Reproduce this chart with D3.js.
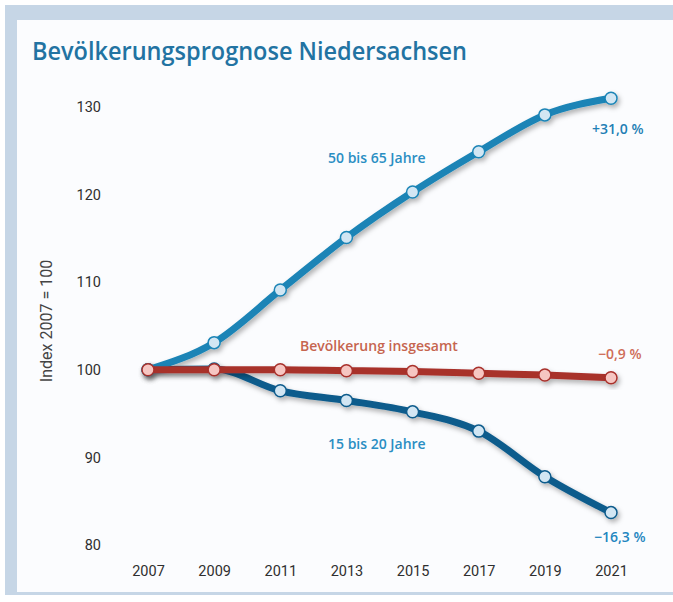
<!DOCTYPE html>
<html>
<head>
<meta charset="utf-8">
<script src="https://cdn.jsdelivr.net/npm/d3@7"></script>
<style>
  body { margin: 0; background: #fff; }
  svg { display: block; font-family: Roboto, "Noto Sans", sans-serif; }
</style>
</head>
<body>
<svg id="chart" width="673" height="602"></svg>
<script>
var years = [2007, 2009, 2011, 2013, 2015, 2017, 2019, 2021];
var yTicks = [80, 90, 100, 110, 120, 130];
var alt50bis65 = [100, 103.1, 109.1, 115.1, 120.3, 124.9, 129.1, 131.0];
var gesamt = [100, 100, 100, 99.9, 99.8, 99.6, 99.4, 99.1];
var alt15bis20 = [100, 100.1, 97.6, 96.5, 95.2, 93.0, 87.8, 83.7];

var svg = d3.select('#chart');

// rahmen
svg.append('rect').attr('x', 5).attr('y', 5).attr('width', 668).attr('height', 590).attr('fill', '#c6d6e6');
svg.append('rect').attr('x', 17).attr('y', 20).attr('width', 656).attr('height', 572).attr('fill', '#fbfcfe');

var defs = svg.append('defs');
var f = defs.append('filter').attr('id', 'shadow').attr('x', '-10%').attr('y', '-10%').attr('width', '130%').attr('height', '140%');
f.append('feDropShadow').attr('dx', 2).attr('dy', 3).attr('stdDeviation', 2.5)
    .attr('flood-color', '#000').attr('flood-opacity', 0.3);

svg.append('text')
    .attr('x', 32).attr('y', 60)
    .attr('font-family', '"Open Sans", sans-serif')
    .attr('font-size', 26)
    .attr('font-weight', 600)
    .attr('fill', '#2273a2')
    .attr('textLength', 435)
    .attr('lengthAdjust', 'spacingAndGlyphs')
    .text('Bevölkerungsprognose Niedersachsen');

var x = d3.scaleLinear().domain([2007, 2021]).range([148, 611]);
var y = d3.scaleLinear().domain([80, 130]).range([545, 107]);

var yAxis = svg.append('g')
    .attr('transform', 'translate(101,0)')
    .call(d3.axisLeft(y).tickValues(yTicks).tickSize(0).tickPadding(0));
yAxis.select('.domain').remove();
yAxis.selectAll('text').attr('font-size', 14.5).attr('fill', '#2f2f2f').attr('font-family', 'Roboto, sans-serif');

var xAxis = svg.append('g')
    .attr('transform', 'translate(0,566)')
    .call(d3.axisBottom(x).tickValues(years).tickFormat(d3.format('d')).tickSize(0).tickPadding(0));
xAxis.select('.domain').remove();
xAxis.selectAll('text').attr('font-size', 14.5).attr('fill', '#2f2f2f').attr('font-family', 'Roboto, sans-serif');

svg.append('text')
    .attr('transform', 'translate(52,321) rotate(-90)')
    .attr('text-anchor', 'middle')
    .attr('font-size', 16)
    .attr('fill', '#444')
    .text('Index 2007 = 100');

var series = [
    { values: alt15bis20, line: '#0d5b8c', dot: '#d2e6f3', dotStroke: '#0d5b8c' },
    { values: alt50bis65, line: '#1a84b6', dot: '#d2e6f3', dotStroke: '#1a84b6' },
    { values: gesamt, line: '#a8302c', dot: '#f6c6c2', dotStroke: '#a8302c' }
];

var line = d3.line()
    .x(function (d, i) { return x(years[i]); })
    .y(function (d) { return y(d); })
    .curve(d3.curveMonotoneX);

series.forEach(function (s) {
    var g = svg.append('g').attr('filter', 'url(#shadow)');
    g.append('path')
        .attr('d', line(s.values))
        .attr('fill', 'none')
        .attr('stroke', s.line)
        .attr('stroke-width', 7)
        .attr('stroke-linecap', 'round');
    g.selectAll('circle')
        .data(s.values)
        .enter()
        .append('circle')
        .attr('cx', function (d, i) { return x(years[i]); })
        .attr('cy', function (d) { return y(d); })
        .attr('r', 6)
        .attr('fill', s.dot)
        .attr('stroke', s.dotStroke)
        .attr('stroke-width', 1.5);
});

var labels = [
    { text: '50 bis 65 Jahre', x: 328, y: 163, color: '#2a8ec3' },
    { text: '+31,0 %', x: 592, y: 134, color: '#1f7fb5' },
    { text: 'Bevölkerung insgesamt', x: 300, y: 351, color: '#c6654f' },
    { text: '−0,9 %', x: 598, y: 359, color: '#cf6d58' },
    { text: '15 bis 20 Jahre', x: 328, y: 449, color: '#2a8ec3' },
    { text: '−16,3 %', x: 594, y: 542, color: '#1f86c0' }
];

svg.selectAll('text.lbl')
    .data(labels)
    .enter()
    .append('text')
    .attr('class', 'lbl')
    .attr('x', function (d) { return d.x; })
    .attr('y', function (d) { return d.y; })
    .attr('font-family', '"Open Sans", sans-serif')
    .attr('font-size', 14)
    .attr('font-weight', 600)
    .attr('fill', function (d) { return d.color; })
    .text(function (d) { return d.text; });
</script>
</body>
</html>
